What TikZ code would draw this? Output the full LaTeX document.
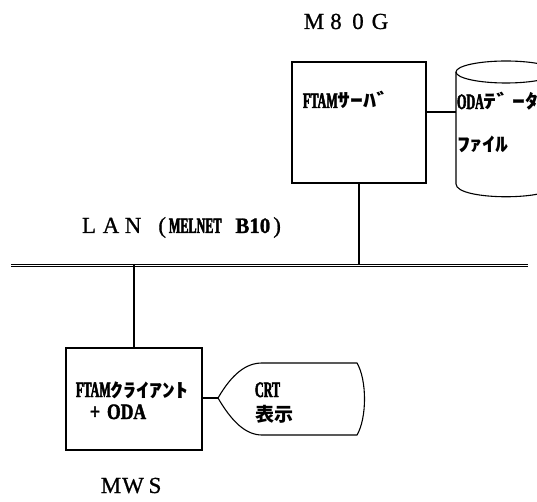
\documentclass[tikz,border=0pt]{standalone}
\usepackage{fontspec}
\setmainfont[FakeBold=0.8]{Liberation Serif}
\newfontfamily\cond[FakeStretch=0.55,FakeBold=2.2]{Liberation Serif Bold}
\newfontfamily\condb[FakeStretch=0.8,FakeBold=1.8]{Liberation Serif Bold}
\newfontfamily\condc[FakeStretch=0.95,FakeBold=1.2]{Liberation Serif Bold}
\newfontfamily\kana[FakeStretch=1.36]{Noto Sans CJK JP}
\newfontfamily\cjk{Noto Sans CJK JP}
\newcommand\szB{\fontsize{23}{26}\selectfont}
\newcommand\szL{\fontsize{22}{24}\selectfont}
\newcommand\fwc[1]{\makebox[22pt]{#1}}
\newcommand\kn[1]{{\kana\bfseries\fontsize{19}{21}\selectfont #1}}
\newcommand\lt[1]{{\cond\szL #1}}
\begin{document}
\begin{tikzpicture}[x=1pt,y=-1pt,line width=1.1pt,
  every node/.style={inner sep=0pt,outer sep=0pt},
  box/.style={draw,line width=1.1pt},
  lanline/.style={double,double distance=1pt,line width=1pt}]
\useasboundingbox (0,0) rectangle (537,502);
\clip (0,0) rectangle (537,502);
% boxes
\node[box,minimum width=134pt,minimum height=121pt] (server) at (359,122.5) {};
\node[box,minimum width=136pt,minimum height=102pt] (mws) at (134,399) {};
% LAN
\coordinate (lanL) at (11,265);
\coordinate (lanR) at (528,265);
\draw[lanline] (lanL) -- (lanR);
% cylinder
\coordinate (cylL) at (456,112);
\draw (506,72) ellipse [x radius=50pt,y radius=11pt];
\draw (456,72) -- (456,184) .. controls (456,201) and (556,201) .. (556,184) -- (556,72);
% CRT display
\coordinate (crtL) at (218,398);
\draw (crtL) .. controls (232,374) and (246,363) .. (262,363) -- (357,363)
  .. controls (367,380) and (367,418) .. (357,435) -- (262,435)
  .. controls (246,435) and (232,422) .. (crtL);
% connectors
\draw (server.south) -- (server.south |- lanL);
\draw (mws.north) -- (mws.north |- lanL);
\draw (server.east |- cylL) -- (cylL);
\draw (mws.east |- crtL) -- (crtL);
% labels
\node[anchor=base] (m80g) at (347,29) {\szB\fwc{M}\fwc{8}\fwc{0}\fwc{G}};
\node[anchor=base] (mwslbl) at (133,493) {\szB\fwc{M}\fwc{W}\fwc{S}};
\node[anchor=base west] (lanlbl) at (78,233) {\szB\fwc{L}\fwc{A}\fwc{N}\makebox[22pt][r]{(}\hspace{3pt}{\szL\cond MELNET\hspace{14pt}\condc B10}\hspace{3pt})};
\node[anchor=base west] (srvtxt) at (303,108) {\lt{FTAM}\kn{ｻｰﾊﾞ}};
\node[anchor=base west] (odatxt) at (457,109) {\lt{ODA}\kn{ﾃﾞ\hspace{3pt}ｰﾀ}};
\node[anchor=base west] (filetxt) at (457,152) {\kn{ﾌｧｲﾙ}};
\node[anchor=base west] (clitxt) at (76,397) {\lt{FTAM}\kn{ｸﾗｲｱﾝﾄ}};
\node[anchor=base west] (clioda) at (90,419) {{\condb\szL +\hspace{7pt}ODA}};
\node[anchor=base west] (crttxt) at (255,397) {\lt{CRT}};
\node[anchor=base west] (dsptxt) at (255,421) {\cjk\bfseries\fontsize{19}{21}\selectfont 表示};
\end{tikzpicture}
\end{document}
